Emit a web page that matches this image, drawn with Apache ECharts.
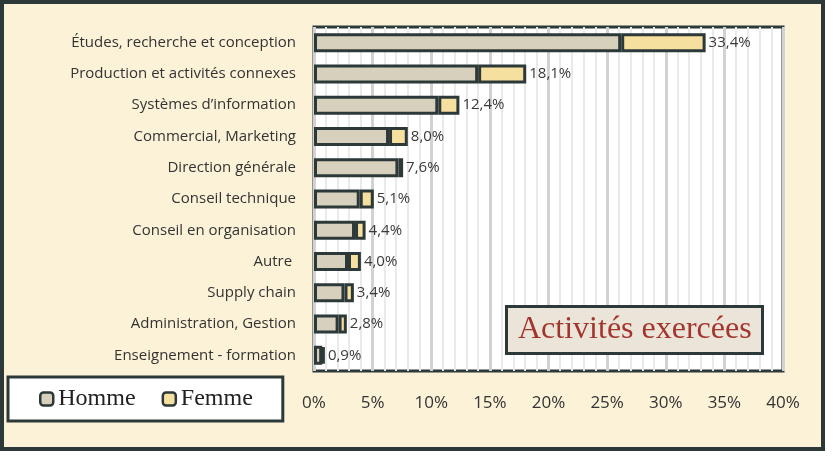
<!DOCTYPE html>
<html>
<head>
<meta charset="utf-8">
<script src="https://cdn.jsdelivr.net/npm/echarts@6/dist/echarts.min.js"></script>
<style>
html,body{margin:0;padding:0;background:#fff;}
#chart{width:835px;height:462px;}
</style>
</head>
<body>
<div id="chart"></div>
<script>
// catégories (de haut en bas)
var categories = ['Études, recherche et conception', 'Production et activités connexes', 'Systèmes d’information',
	'Commercial, Marketing', 'Direction générale', 'Conseil technique', 'Conseil en organisation',
	'Autre ', 'Supply chain', 'Administration, Gestion', 'Enseignement - formation'];
var homme = [26.2, 14.0, 10.6, 6.4, 7.2, 3.9, 3.5, 2.9, 2.6, 2.1, 0.7];
var femme = [7.2, 4.1, 1.8, 1.6, 0.4, 1.2, 0.9, 1.1, 0.8, 0.7, 0.2];
var xTicks = [0, 5, 10, 15, 20, 25, 30, 35, 40];

var dark = '#2d3838';

var option = {
	backgroundColor: 'transparent',
	graphic: [{
		type: 'rect',
		z: -10,
		shape: { x: 2, y: 2, width: 821, height: 447 },
		style: { fill: '#fbf2d8', stroke: dark, lineWidth: 4 }
	}],
	title: {
		text: 'Activités exercées',
		left: 506,
		top: 306,
		backgroundColor: '#ebe5d9',
		borderColor: dark,
		borderWidth: 3,
		padding: [8, 11, 8, 12],
		textStyle: {
			fontFamily: 'Liberation Serif',
			fontSize: 32,
			fontWeight: 'normal',
			color: '#a3352c'
		}
	},
	legend: {
		left: 8,
		top: 377,
		backgroundColor: '#fff',
		borderColor: dark,
		borderWidth: 3,
		padding: [10, 30, 10, 31],
		itemWidth: 13,
		itemHeight: 13,
		itemGap: 26,
		icon: 'roundRect',
		itemStyle: { borderColor: dark, borderWidth: 2.5 },
		textStyle: {
			fontFamily: 'Liberation Serif',
			fontSize: 24,
			color: '#222'
		},
		data: ['Homme', 'Femme']
	},
	grid: {
		left: 314,
		right: 52,
		top: 27,
		bottom: 91,
		show: true,
		backgroundColor: '#fff',
		borderColor: dark,
		borderWidth: 3
	},
	xAxis: {
		type: 'value',
		min: xTicks[0],
		max: xTicks[xTicks.length - 1],
		interval: 5,
		axisLine: { show: false },
		axisTick: { show: false },
		axisLabel: {
			margin: 24,
			fontFamily: 'Open Sans',
			fontSize: 17,
			color: '#333',
			formatter: '{value}%'
		},
		splitLine: { lineStyle: { color: '#d2d2d2', width: 3 } },
		minorTick: { show: false, splitNumber: 5 },
		minorSplitLine: { show: true, lineStyle: { color: '#eaeaea', width: 2 } }
	},
	yAxis: {
		type: 'category',
		inverse: true,
		data: categories,
		axisLine: { show: false },
		axisTick: { show: false },
		axisLabel: {
			margin: 18,
			fontFamily: 'Open Sans',
			fontSize: 15,
			color: '#333'
		}
	},
	series: [{
		name: 'Homme',
		type: 'bar',
		stack: 'total',
		barWidth: 19,
		itemStyle: { color: '#d6d0bc', borderColor: dark, borderWidth: 3 },
		data: homme
	}, {
		name: 'Femme',
		type: 'bar',
		stack: 'total',
		barWidth: 19,
		itemStyle: { color: '#f6e0a0', borderColor: dark, borderWidth: 3 },
		label: {
			show: true,
			position: 'right',
			distance: 3,
			fontFamily: 'Open Sans',
			fontSize: 15,
			color: '#3a3a3a',
			formatter: function (p) {
				var t = homme[p.dataIndex] + femme[p.dataIndex];
				return t.toFixed(1).replace('.', ',') + '%';
			}
		},
		data: femme
	}]
};

var myChart = echarts.init(document.getElementById('chart'));
myChart.setOption(option);
</script>
</body>
</html>
